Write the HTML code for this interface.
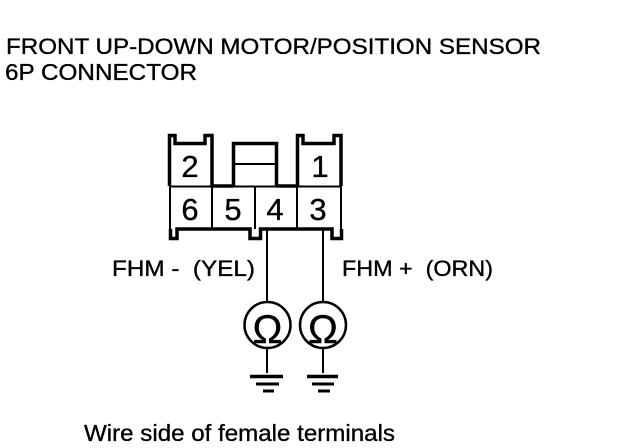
<!DOCTYPE html>
<html><head><meta charset="utf-8"><style>
html,body{margin:0;padding:0;background:#fff}
svg{display:block}
text{font-family:"Liberation Sans",sans-serif;fill:#000;stroke:#000;stroke-width:.35}
</style></head><body>
<svg width="624" height="448" viewBox="0 0 624 448" xmlns="http://www.w3.org/2000/svg">
<text x="6" y="54" font-size="22.500" textLength="535" lengthAdjust="spacingAndGlyphs">FRONT UP-DOWN MOTOR/POSITION SENSOR</text>
<text x="5" y="80" font-size="23" textLength="192" lengthAdjust="spacingAndGlyphs">6P CONNECTOR</text>
<g fill="none" stroke="#000" stroke-width="2">
<path stroke-width="3.500" d="M169.500 186V135.500H175V143.500H205V135.500H212V186"/>
<path stroke-width="3.500" d="M297.500 186V135.500H303V143.500H334V135.500H341V186"/>
<path stroke-width="3.500" d="M233.500 186V143.500H276.500V186"/>
<path d="M233 164H277"/>
<path d="M170 186.500H341"/>
<path stroke-width="3.500" d="M212 186H233M277 186H297"/>
<path d="M170 186V229M212 186V229M255 186V229M297 186V229M341 186V229"/>
<path stroke-width="3.500" d="M170.500 229V238.500H177V229H250V238.500H260.500V229H332V238.500H341.500V229"/>
<path d="M267 229V302M323 229V302M267 348V373M323 348V373"/>
<circle cx="267.500" cy="325" r="23" stroke-width="2.500"/>
<circle cx="323" cy="325" r="23" stroke-width="2.500"/>
<path stroke-width="3.500" d="M250 376.500H283M307 376.500H338"/>
<path stroke-width="3" d="M256 384H279M312 384H334M263 391H274M318 391H330"/>
</g>
<g font-size="31" text-anchor="middle">
<text x="190" y="177">2</text>
<text x="320" y="177">1</text>
<text x="190" y="220">6</text>
<text x="233" y="220">5</text>
<text x="275" y="220">4</text>
<text x="318" y="220">3</text>
<text x="267.500" y="343" font-size="40" style="stroke-width:.4">Ω</text>
<text x="323" y="343" font-size="40" style="stroke-width:.4">Ω</text>
</g>
<text x="112" y="276" font-size="22" xml:space="preserve" textLength="143" lengthAdjust="spacingAndGlyphs">FHM -  (YEL)</text>
<text x="342" y="276" font-size="22" xml:space="preserve" textLength="151" lengthAdjust="spacingAndGlyphs">FHM +  (ORN)</text>
<text x="84" y="441" font-size="23" textLength="311" lengthAdjust="spacingAndGlyphs">Wire side of female terminals</text>
</svg>
</body></html>
